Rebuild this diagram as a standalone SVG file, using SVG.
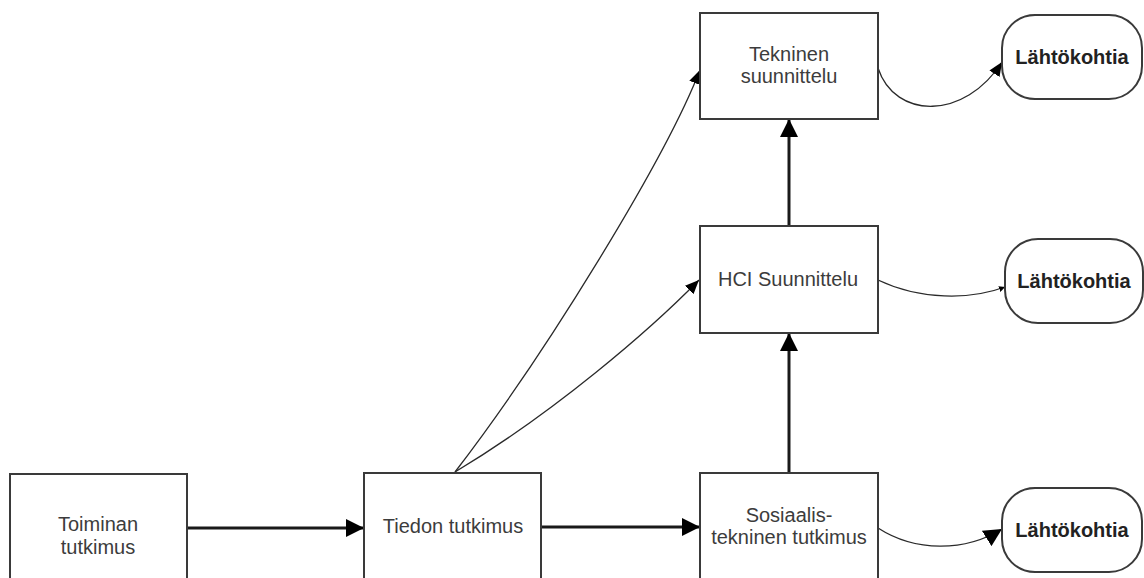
<svg xmlns="http://www.w3.org/2000/svg" width="1144" height="578" viewBox="0 0 1144 578">
<style>
.box{fill:#fff;stroke:#3a3a3a;stroke-width:2}
.t{font-family:"Liberation Sans",Arial,sans-serif;font-size:20px;fill:#3c3c3c;text-anchor:middle}
.b{font-family:"Liberation Sans",Arial,sans-serif;font-size:20px;font-weight:bold;fill:#222;text-anchor:middle}
.thick{fill:none;stroke:#1a1a1a;stroke-width:3}
.thin{fill:none;stroke:#2a2a2a;stroke-width:1.3}
</style>
<defs>
<marker id="big" markerUnits="userSpaceOnUse" markerWidth="18" markerHeight="18" refX="18" refY="9" orient="auto" viewBox="0 0 18 18">
<path d="M0,0 L18,9 L0,18 Z" fill="#000"/>
</marker>
<marker id="mid" markerUnits="userSpaceOnUse" markerWidth="14" markerHeight="12" refX="14" refY="6" orient="auto" viewBox="0 0 14 12">
<path d="M0,0 L14,6 L0,12 Z" fill="#000"/>
</marker>
<marker id="small" markerUnits="userSpaceOnUse" markerWidth="6" markerHeight="6" refX="6" refY="3" orient="auto" viewBox="0 0 6 6">
<path d="M0,0 L6,3 L0,6 Z" fill="#000"/>
</marker>
</defs>
<rect width="1144" height="578" fill="#fff"/>
<g id="connectors">
<line class="thick" x1="187" y1="528" x2="364" y2="528" marker-end="url(#big)"/>
<line class="thick" x1="541" y1="527" x2="700" y2="527" marker-end="url(#big)"/>
<line class="thick" x1="789" y1="473" x2="789" y2="333" marker-end="url(#big)"/>
<line class="thick" x1="789" y1="226" x2="789" y2="119" marker-end="url(#big)"/>
<path class="thin" d="M455,472 C545,355 665,160 700,70" marker-end="url(#mid)"/>
<path class="thin" d="M455,472 C555,412 650,330 699,280" marker-end="url(#mid)"/>
<path class="thin" d="M878,68 C895,120 965,120 1002,62" marker-end="url(#mid)"/>
<path class="thin" d="M878,280 C920,300 970,300 1005,287" marker-end="url(#small)"/>
<path class="thin" d="M878,528 C915,552 965,552 1002,529" marker-end="url(#big)"/>
</g>
<g id="toiminan">
<rect class="box" x="10" y="474" width="177" height="120"/>
<text class="t" x="98" y="531">Toiminan</text>
<text class="t" x="98" y="554">tutkimus</text>
</g>
<g id="tiedon">
<rect class="box" x="364" y="473" width="177" height="120"/>
<text class="t" x="453" y="533">Tiedon tutkimus</text>
</g>
<g id="sosiaalis">
<rect class="box" x="700" y="473" width="178" height="120"/>
<text class="t" x="789" y="522">Sosiaalis-</text>
<text class="t" x="789" y="544">tekninen tutkimus</text>
</g>
<g id="hci">
<rect class="box" x="700" y="226" width="178" height="107"/>
<text class="t" x="788" y="286">HCI Suunnittelu</text>
</g>
<g id="tekninen">
<rect class="box" x="700" y="13" width="178" height="106"/>
<text class="t" x="789" y="61">Tekninen</text>
<text class="t" x="789" y="83">suunnittelu</text>
</g>
<g id="lahto1">
<rect class="box" x="1002" y="15" width="140" height="84" rx="33" ry="33"/>
<text class="b" x="1072" y="64">Lähtökohtia</text>
</g>
<g id="lahto2">
<rect class="box" x="1005" y="239" width="138" height="84" rx="33" ry="33"/>
<text class="b" x="1074" y="288">Lähtökohtia</text>
</g>
<g id="lahto3">
<rect class="box" x="1002" y="488" width="140" height="84" rx="33" ry="33"/>
<text class="b" x="1072" y="537">Lähtökohtia</text>
</g>
</svg>
